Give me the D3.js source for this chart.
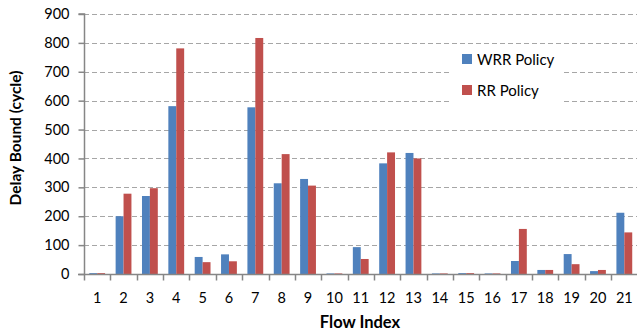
<!DOCTYPE html>
<html>
<head>
<meta charset="utf-8">
<script src="https://cdn.jsdelivr.net/npm/d3@7"></script>
<style>
  html, body { margin: 0; padding: 0; background: #fff; }
  svg { display: block; font-family: Lato, "Open Sans", sans-serif; }
</style>
</head>
<body>
<svg id="chart" width="637" height="335"></svg>
<script>
const categories = ["1","2","3","4","5","6","7","8","9","10","11","12","13","14","15","16","17","18","19","20","21"];
const seriesNames = ["WRR Policy", "RR Policy"];
const wrrValues = [3, 200, 270, 581, 59, 68, 577, 314, 329, 2, 93, 383, 419, 2, 3, 2, 45, 14, 69, 10, 212];
const rrValues  = [3, 278, 297, 781, 41, 44, 817, 415, 306, 2, 52, 421, 400, 2, 3, 2, 156, 14, 34, 14, 144];
const yTicks = [0, 100, 200, 300, 400, 500, 600, 700, 800, 900];
const colors = ["#4f81bd", "#c0504d"];

(function () {
const svg = d3.select("#chart");
const pLeft = 84, pRight = 637.5, pTop = 14, pBottom = 274;

const x0 = d3.scaleBand().domain(categories).range([pLeft, pRight]).padding(0);
const x1 = d3.scaleBand().domain(seriesNames)
  .range([x0.bandwidth() * 0.2, x0.bandwidth() * 0.8]).padding(0);
const y = d3.scaleLinear().domain([0, 900]).range([pBottom, pTop]);

// gridlines
svg.append("g").selectAll("line").data(yTicks.filter(d => d > 0)).join("line")
  .attr("x1", pLeft).attr("x2", 637)
  .attr("y1", d => Math.round(y(d)) + 0.5).attr("y2", d => Math.round(y(d)) + 0.5)
  .attr("stroke", "#a6a6a6").attr("stroke-width", 1.2).attr("stroke-dasharray", "5,3");

// bars
const data = categories.map((c, i) => ({ cat: c, vals: [wrrValues[i], rrValues[i]] }));
svg.append("g").selectAll("g").data(data).join("g")
  .attr("transform", d => `translate(${x0(d.cat)},0)`)
  .selectAll("rect").data(d => d.vals.map((v, j) => ({ s: seriesNames[j], v, j })))
  .join("rect")
  .attr("x", d => x1(d.s))
  .attr("width", x1.bandwidth())
  .attr("y", d => y(d.v))
  .attr("height", d => pBottom - y(d.v))
  .attr("fill", d => colors[d.j]);

// y axis
const yAxis = d3.axisLeft(y).tickValues(yTicks).tickSize(6).tickPadding(9);
const gy = svg.append("g").attr("transform", `translate(${pLeft + 0.5},0)`).call(yAxis);
gy.select(".domain").attr("stroke", "#868686").attr("stroke-width", 1.5).attr("d", `M-6,${pTop}H0V${pBottom}`);
gy.selectAll(".tick line").attr("stroke", "#868686").attr("stroke-width", 1.5);
gy.selectAll(".tick text").attr("font-size", "14.5px").attr("fill", "#000")
  .attr("font-family", "Lato, sans-serif");

// x axis
const gx = svg.append("g").attr("transform", `translate(0,${pBottom + 0.5})`);
gx.append("line").attr("x1", pLeft - 6).attr("x2", 637).attr("y1", 0).attr("y2", 0)
  .attr("stroke", "#868686").attr("stroke-width", 1.5);
const boundaries = categories.map(c => x0(c)).concat([x0(categories[categories.length - 1]) + x0.bandwidth()]);
gx.selectAll("line.tk").data(boundaries).join("line").attr("class", "tk")
  .attr("x1", d => Math.round(d) + 0.5).attr("x2", d => Math.round(d) + 0.5)
  .attr("y1", 0).attr("y2", 6).attr("stroke", "#868686").attr("stroke-width", 1.5);
gx.selectAll("text").data(categories).join("text")
  .attr("x", d => x0(d) + x0.bandwidth() / 2).attr("y", 28)
  .attr("text-anchor", "middle").attr("font-size", "14.5px").attr("fill", "#000")
  .text(d => d);

// axis titles
svg.append("text").attr("x", 360).attr("y", 328).attr("text-anchor", "middle")
  .attr("font-size", "16.5px").attr("font-weight", "bold").text("Flow Index");
svg.append("text").attr("transform", "translate(21,138) rotate(-90)")
  .attr("text-anchor", "middle").attr("font-size", "15.5px").attr("font-weight", "bold")
  .text("Delay Bound (cycle)");

// legend
const lg = svg.append("g");
lg.append("rect").attr("x", 450).attr("y", 45).attr("width", 112).attr("height", 58).attr("fill", "#fff");
seriesNames.forEach((s, i) => {
  const cy = 59 + i * 31;
  lg.append("rect").attr("x", 462).attr("y", cy - 5).attr("width", 10).attr("height", 10).attr("fill", colors[i]);
  lg.append("text").attr("x", 477).attr("y", cy + 5.5).attr("font-size", "15px").attr("fill", "#000").text(s);
});
})();
</script>
</body>
</html>
